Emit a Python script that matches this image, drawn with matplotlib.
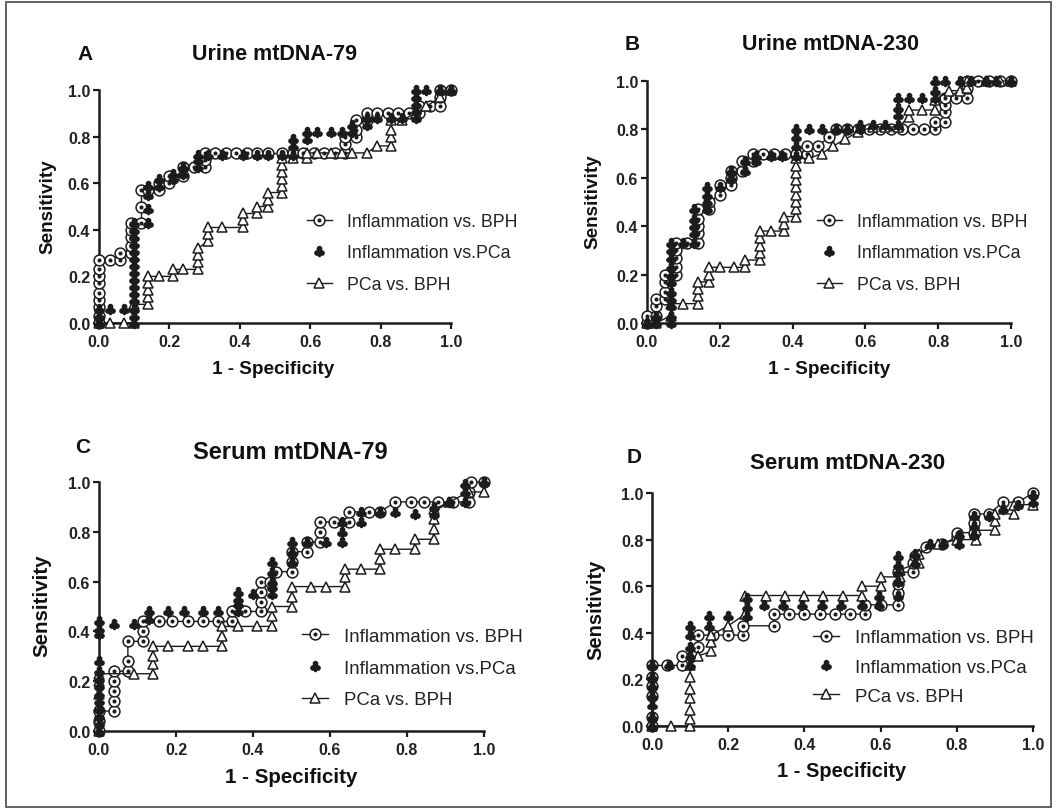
import matplotlib
matplotlib.use("Agg")
import matplotlib.pyplot as plt
from matplotlib.patches import Rectangle

# ---- data: (1 - specificity, sensitivity) points ----
# A  Urine mtDNA-79
a_inf_bph = [(0, 0), (0, 0.03), (0, 0.07), (0, 0.10), (0, 0.13), (0, 0.17), (0, 0.20), (0, 0.23), (0, 0.27),
             (0.03, 0.27), (0.06, 0.27), (0.06, 0.30), (0.09, 0.30), (0.09, 0.33), (0.09, 0.37), (0.09, 0.40),
             (0.09, 0.43), (0.12, 0.43), (0.12, 0.50), (0.12, 0.57), (0.14, 0.57), (0.17, 0.57), (0.17, 0.60),
             (0.20, 0.60), (0.20, 0.63), (0.24, 0.63), (0.24, 0.67), (0.27, 0.67), (0.30, 0.67), (0.30, 0.70),
             (0.30, 0.73), (0.33, 0.73), (0.36, 0.73), (0.39, 0.73), (0.42, 0.73), (0.45, 0.73), (0.48, 0.73),
             (0.52, 0.73), (0.55, 0.73), (0.58, 0.73), (0.61, 0.73), (0.64, 0.73), (0.67, 0.73), (0.70, 0.73),
             (0.70, 0.77), (0.70, 0.80), (0.73, 0.80), (0.73, 0.83), (0.73, 0.87), (0.76, 0.87), (0.76, 0.90),
             (0.79, 0.90), (0.82, 0.90), (0.85, 0.90), (0.88, 0.90), (0.91, 0.90), (0.91, 0.93), (0.94, 0.93),
             (0.97, 0.93), (0.97, 0.97), (0.97, 1.0), (1.0, 1.0)]
a_inf_pca = [(0, 0), (0, 0.03), (0, 0.06), (0.03, 0.06), (0.07, 0.06), (0.10, 0.0), (0.10, 0.03), (0.10, 0.06),
             (0.10, 0.10), (0.10, 0.13), (0.10, 0.16), (0.10, 0.19), (0.10, 0.22), (0.10, 0.25), (0.10, 0.28),
             (0.10, 0.31), (0.10, 0.34), (0.10, 0.37), (0.10, 0.40), (0.10, 0.43), (0.14, 0.43), (0.14, 0.49),
             (0.14, 0.55), (0.14, 0.59), (0.17, 0.59), (0.17, 0.62), (0.21, 0.62), (0.21, 0.64), (0.24, 0.64),
             (0.24, 0.67), (0.28, 0.67), (0.28, 0.70), (0.28, 0.72), (0.31, 0.72), (0.35, 0.72), (0.41, 0.72),
             (0.45, 0.72), (0.48, 0.72), (0.52, 0.72), (0.55, 0.72), (0.55, 0.76), (0.55, 0.79), (0.59, 0.79),
             (0.59, 0.82), (0.62, 0.82), (0.66, 0.82), (0.69, 0.82), (0.72, 0.82), (0.72, 0.85), (0.76, 0.85),
             (0.76, 0.88), (0.79, 0.88), (0.83, 0.88), (0.86, 0.88), (0.90, 0.88), (0.90, 0.91), (0.90, 0.94),
             (0.90, 0.97), (0.90, 1.0), (0.93, 1.0), (0.97, 1.0), (1.0, 1.0)]
a_pca_bph = [(0, 0), (0.03, 0), (0.07, 0), (0.10, 0), (0.10, 0.08), (0.14, 0.08), (0.14, 0.11), (0.14, 0.14),
             (0.14, 0.17), (0.14, 0.20), (0.17, 0.20), (0.21, 0.20), (0.21, 0.23), (0.24, 0.23), (0.28, 0.23),
             (0.28, 0.26), (0.28, 0.29), (0.28, 0.32), (0.31, 0.35), (0.31, 0.38), (0.31, 0.41), (0.35, 0.41),
             (0.41, 0.41), (0.41, 0.44), (0.41, 0.47), (0.45, 0.47), (0.45, 0.50), (0.48, 0.50), (0.48, 0.53),
             (0.48, 0.56), (0.52, 0.56), (0.52, 0.59), (0.52, 0.62), (0.52, 0.65), (0.52, 0.68), (0.52, 0.71),
             (0.55, 0.71), (0.59, 0.71), (0.59, 0.73), (0.62, 0.73), (0.66, 0.73), (0.69, 0.73), (0.72, 0.73),
             (0.76, 0.73), (0.79, 0.76), (0.83, 0.76), (0.83, 0.80), (0.83, 0.83), (0.83, 0.87), (0.86, 0.87),
             (0.90, 0.90), (0.93, 0.93), (0.97, 0.97), (1.0, 1.0)]

# B  Urine mtDNA-230
b_inf_bph = [(0, 0), (0, 0.03), (0.025, 0.03), (0.025, 0.07), (0.025, 0.10), (0.05, 0.10), (0.05, 0.13),
             (0.05, 0.17), (0.05, 0.20), (0.08, 0.20), (0.08, 0.23), (0.08, 0.27), (0.08, 0.30), (0.08, 0.33),
             (0.11, 0.33), (0.14, 0.33), (0.14, 0.37), (0.14, 0.40), (0.14, 0.43), (0.14, 0.47), (0.17, 0.47),
             (0.17, 0.50), (0.20, 0.53), (0.20, 0.57), (0.23, 0.57), (0.23, 0.60), (0.23, 0.63), (0.26, 0.63),
             (0.26, 0.67), (0.29, 0.67), (0.29, 0.70), (0.32, 0.70), (0.35, 0.70), (0.38, 0.70), (0.41, 0.70),
             (0.44, 0.70), (0.44, 0.73), (0.47, 0.73), (0.50, 0.77), (0.52, 0.80), (0.55, 0.80), (0.58, 0.80),
             (0.61, 0.80), (0.64, 0.80), (0.67, 0.80), (0.70, 0.80), (0.73, 0.80), (0.76, 0.80), (0.79, 0.80),
             (0.79, 0.83), (0.82, 0.83), (0.82, 0.87), (0.82, 0.90), (0.82, 0.93), (0.85, 0.93), (0.88, 0.93),
             (0.88, 0.97), (0.88, 1.0), (0.91, 1.0), (0.94, 1.0), (0.97, 1.0), (1.0, 1.0)]
b_inf_pca = [(0, 0), (0.025, 0), (0.025, 0.03), (0.065, 0), (0.065, 0.03), (0.065, 0.07), (0.065, 0.10),
             (0.065, 0.13), (0.065, 0.17), (0.065, 0.20), (0.065, 0.23), (0.065, 0.27), (0.065, 0.30),
             (0.065, 0.33), (0.10, 0.33), (0.13, 0.33), (0.13, 0.37), (0.13, 0.40), (0.13, 0.43), (0.13, 0.47),
             (0.165, 0.47), (0.165, 0.50), (0.165, 0.53), (0.165, 0.56), (0.20, 0.56), (0.23, 0.60),
             (0.23, 0.63), (0.27, 0.63), (0.27, 0.67), (0.30, 0.67), (0.30, 0.69), (0.34, 0.69), (0.37, 0.69),
             (0.41, 0.69), (0.41, 0.73), (0.41, 0.77), (0.41, 0.80), (0.445, 0.80), (0.48, 0.80), (0.52, 0.80),
             (0.55, 0.80), (0.585, 0.80), (0.585, 0.82), (0.62, 0.82), (0.655, 0.82), (0.69, 0.82), (0.69, 0.86),
             (0.69, 0.89), (0.69, 0.93), (0.72, 0.93), (0.755, 0.93), (0.79, 0.93), (0.79, 0.96), (0.79, 1.0),
             (0.82, 1.0), (0.86, 1.0), (0.89, 1.0), (0.93, 1.0), (0.96, 1.0), (1.0, 1.0)]
b_pca_bph = [(0, 0), (0.025, 0), (0.065, 0.03), (0.065, 0.08), (0.10, 0.08), (0.14, 0.08), (0.14, 0.11),
             (0.14, 0.14), (0.14, 0.17), (0.17, 0.17), (0.17, 0.20), (0.17, 0.23), (0.20, 0.23), (0.24, 0.23),
             (0.27, 0.23), (0.27, 0.26), (0.31, 0.26), (0.31, 0.29), (0.31, 0.32), (0.31, 0.35), (0.31, 0.38),
             (0.34, 0.38), (0.375, 0.38), (0.375, 0.41), (0.375, 0.44), (0.41, 0.44), (0.41, 0.47), (0.41, 0.50),
             (0.41, 0.53), (0.41, 0.56), (0.41, 0.59), (0.41, 0.62), (0.41, 0.65), (0.41, 0.68), (0.445, 0.68),
             (0.48, 0.70), (0.51, 0.73), (0.545, 0.76), (0.58, 0.79), (0.62, 0.81), (0.655, 0.81), (0.69, 0.81),
             (0.72, 0.85), (0.72, 0.88), (0.755, 0.88), (0.79, 0.88), (0.79, 0.92), (0.83, 0.96), (0.86, 0.96),
             (0.88, 0.97), (0.88, 1.0), (0.93, 1.0), (0.97, 1.0), (1.0, 1.0)]

# C  Serum mtDNA-79
c_inf_bph = [(0, 0), (0, 0.04), (0, 0.08), (0.04, 0.08), (0.04, 0.12), (0.04, 0.16), (0.04, 0.20), (0.04, 0.24),
             (0.075, 0.24), (0.075, 0.28), (0.075, 0.36), (0.115, 0.36), (0.115, 0.40), (0.115, 0.44),
             (0.155, 0.44), (0.19, 0.44), (0.23, 0.44), (0.27, 0.44), (0.31, 0.44), (0.345, 0.44), (0.345, 0.48),
             (0.38, 0.48), (0.42, 0.48), (0.42, 0.52), (0.42, 0.56), (0.42, 0.60), (0.445, 0.60), (0.46, 0.64),
             (0.50, 0.64), (0.50, 0.68), (0.50, 0.72), (0.54, 0.72), (0.54, 0.76), (0.575, 0.76), (0.575, 0.80),
             (0.575, 0.84), (0.61, 0.84), (0.65, 0.84), (0.65, 0.88), (0.70, 0.88), (0.73, 0.88), (0.77, 0.92),
             (0.81, 0.92), (0.845, 0.92), (0.88, 0.92), (0.92, 0.92), (0.96, 0.92), (0.96, 0.96), (0.965, 1.0),
             (1.0, 1.0)]
c_inf_pca = [(0, 0), (0, 0.03), (0, 0.06), (0, 0.09), (0, 0.12), (0, 0.15), (0, 0.18), (0, 0.21), (0, 0.24),
             (0, 0.28), (0, 0.39), (0, 0.41), (0, 0.44), (0.04, 0.43), (0.09, 0.43), (0.13, 0.45), (0.13, 0.48),
             (0.18, 0.48), (0.22, 0.48), (0.27, 0.48), (0.31, 0.48), (0.36, 0.48), (0.36, 0.51), (0.36, 0.53),
             (0.36, 0.56), (0.40, 0.55), (0.45, 0.55), (0.45, 0.58), (0.45, 0.60), (0.45, 0.64), (0.45, 0.68),
             (0.50, 0.68), (0.50, 0.72), (0.50, 0.76), (0.54, 0.76), (0.59, 0.76), (0.63, 0.76), (0.63, 0.80),
             (0.63, 0.84), (0.68, 0.84), (0.68, 0.88), (0.73, 0.88), (0.77, 0.88), (0.82, 0.87), (0.87, 0.87),
             (0.87, 0.90), (0.91, 0.92), (0.95, 0.92), (0.95, 0.96), (0.95, 0.99), (1.0, 1.0)]
c_pca_bph = [(0, 0), (0, 0.05), (0, 0.10), (0, 0.15), (0, 0.20), (0, 0.23), (0.09, 0.23), (0.14, 0.23),
             (0.14, 0.27), (0.14, 0.30), (0.14, 0.34), (0.18, 0.34), (0.23, 0.34), (0.27, 0.34), (0.32, 0.34),
             (0.32, 0.38), (0.32, 0.42), (0.36, 0.42), (0.41, 0.42), (0.45, 0.42), (0.45, 0.46), (0.45, 0.50),
             (0.50, 0.50), (0.50, 0.54), (0.50, 0.58), (0.55, 0.58), (0.59, 0.58), (0.64, 0.58), (0.64, 0.62),
             (0.64, 0.65), (0.68, 0.65), (0.73, 0.65), (0.73, 0.69), (0.73, 0.73), (0.77, 0.73), (0.82, 0.73),
             (0.82, 0.77), (0.87, 0.77), (0.87, 0.81), (0.87, 0.85), (0.87, 0.89), (0.91, 0.92), (0.96, 0.96),
             (1.0, 0.96)]

# D  Serum mtDNA-230
d_inf_bph = [(0, 0), (0, 0.04), (0, 0.13), (0, 0.17), (0, 0.21), (0, 0.26), (0.04, 0.26), (0.08, 0.26),
             (0.08, 0.30), (0.105, 0.30), (0.12, 0.34), (0.12, 0.39), (0.16, 0.39), (0.20, 0.39), (0.24, 0.39),
             (0.24, 0.43), (0.32, 0.43), (0.32, 0.48), (0.36, 0.48), (0.40, 0.48), (0.44, 0.48), (0.48, 0.48),
             (0.52, 0.48), (0.56, 0.48), (0.56, 0.52), (0.60, 0.52), (0.645, 0.52), (0.645, 0.57), (0.645, 0.61),
             (0.645, 0.66), (0.685, 0.66), (0.685, 0.70), (0.69, 0.73), (0.72, 0.77), (0.76, 0.78), (0.80, 0.81),
             (0.80, 0.83), (0.845, 0.83), (0.845, 0.87), (0.845, 0.91), (0.885, 0.91), (0.92, 0.96), (0.96, 0.96),
             (1.0, 1.0)]
d_inf_pca = [(0, 0), (0, 0.04), (0, 0.09), (0, 0.13), (0, 0.17), (0, 0.21), (0, 0.26), (0.045, 0.26),
             (0.10, 0.26), (0.10, 0.30), (0.10, 0.34), (0.10, 0.39), (0.10, 0.43), (0.15, 0.43), (0.15, 0.47),
             (0.20, 0.47), (0.25, 0.47), (0.25, 0.51), (0.25, 0.55), (0.295, 0.52), (0.345, 0.52), (0.395, 0.52),
             (0.445, 0.52), (0.495, 0.52), (0.55, 0.52), (0.595, 0.52), (0.595, 0.56), (0.645, 0.56),
             (0.645, 0.62), (0.645, 0.66), (0.645, 0.69), (0.645, 0.73), (0.69, 0.70), (0.69, 0.74), (0.73, 0.78),
             (0.765, 0.78), (0.805, 0.78), (0.805, 0.82), (0.845, 0.82), (0.845, 0.86), (0.845, 0.90),
             (0.885, 0.90), (0.92, 0.93), (0.96, 0.95), (1.0, 0.96), (1.0, 0.99)]
d_pca_bph = [(0, 0), (0.05, 0), (0.10, 0), (0.10, 0.03), (0.10, 0.07), (0.10, 0.12), (0.10, 0.16), (0.10, 0.21),
             (0.10, 0.26), (0.12, 0.30), (0.155, 0.32), (0.155, 0.36), (0.155, 0.39), (0.20, 0.43), (0.245, 0.48),
             (0.245, 0.56), (0.30, 0.56), (0.35, 0.56), (0.40, 0.56), (0.45, 0.56), (0.50, 0.56), (0.55, 0.56),
             (0.55, 0.60), (0.60, 0.60), (0.60, 0.64), (0.65, 0.64), (0.65, 0.67), (0.70, 0.70), (0.70, 0.74),
             (0.75, 0.78), (0.80, 0.80), (0.85, 0.80), (0.85, 0.84), (0.90, 0.84), (0.90, 0.88), (0.90, 0.91),
             (0.95, 0.91), (0.95, 0.95), (1.0, 0.95)]

series_names = ["Inflammation vs. BPH", "Inflammation vs.PCa", "PCa vs. BPH"]
ticks = [0.0, 0.2, 0.4, 0.6, 0.8, 1.0]
tick_labels = ["0.0", "0.2", "0.4", "0.6", "0.8", "1.0"]

W, H = 1056, 812
INK = "#1c1c1c"

plt.rcParams["font.family"] = ["Liberation Sans", "DejaVu Sans"]


def fx(px):
    return px / W


def fy(py):
    return 1 - py / H


fig = plt.figure(figsize=(W / 100, H / 100), dpi=100)
fig.patches.append(Rectangle((fx(6), fy(808)), fx(1051) - fx(6), fy(3) - fy(808),
                             transform=fig.transFigure, fill=False,
                             edgecolor="#555555", linewidth=1.3))


def draw_panel(box, curves, letter, letter_xy, title, title_xy, title_fs,
               xlab_xy, ylab_xy, lab_fs, leg_xy, leg_fs, leg_space):
    l, t, r, b = box
    ax = fig.add_axes([fx(l), fy(b), fx(r) - fx(l), fy(t) - fy(b)])
    inf_bph, inf_pca, pca_bph = curves

    x, y = zip(*inf_bph)
    h1, = ax.plot(x, y, color=INK, lw=1.0, marker="o", ms=7.8, mfc="white",
                  mec=INK, mew=1.1, clip_on=False, zorder=3)
    h1d, = ax.plot(x, y, ls="none", marker="o", ms=1.9, color=INK,
                   clip_on=False, zorder=3.1)
    x, y = zip(*pca_bph)
    h3, = ax.plot(x, y, color=INK, lw=1.0, marker="^", ms=7.8, mfc="white",
                  mec=INK, mew=1.1, clip_on=False, zorder=4)
    x, y = zip(*inf_pca)
    h2, = ax.plot(x, y, ls="none", marker=r"$\clubsuit$", ms=7.2, color=INK,
                  clip_on=False, zorder=5)

    ax.set_xlim(0, 1)
    ax.set_ylim(0, 1)
    ax.set_xticks(ticks)
    ax.set_yticks(ticks)
    ax.set_xticklabels(tick_labels, fontweight="bold")
    ax.set_yticklabels(tick_labels, fontweight="bold")
    ax.tick_params(axis="both", direction="out", length=4.3, width=1.6,
                   color=INK, labelsize=11.5, labelcolor="#222222")
    ax.tick_params(axis="x", pad=3.5)
    ax.tick_params(axis="y", pad=2)
    for side in ["top", "right"]:
        ax.spines[side].set_visible(False)
    for side in ["left", "bottom"]:
        ax.spines[side].set_linewidth(1.8)
        ax.spines[side].set_color(INK)

    ax.legend([(h1, h1d), h2, h3], series_names, loc="center left",
              bbox_to_anchor=(fx(leg_xy[0]), fy(leg_xy[1])),
              bbox_transform=fig.transFigure, frameon=False, fontsize=leg_fs,
              handlelength=1.4, handletextpad=0.85, labelspacing=leg_space,
              borderpad=0, borderaxespad=0, labelcolor="#222222")

    fig.text(fx(letter_xy[0]), fy(letter_xy[1]), letter, ha="center",
             va="center", fontsize=15, fontweight="bold", color="#111111")
    fig.text(fx(title_xy[0]), fy(title_xy[1]), title, ha="center",
             va="center", fontsize=title_fs, fontweight="bold", color="#111111")
    fig.text(fx(xlab_xy[0]), fy(xlab_xy[1]), "1 - Specificity", ha="center",
             va="center", fontsize=lab_fs, fontweight="bold", color="#111111")
    fig.text(fx(ylab_xy[0]), fy(ylab_xy[1]), "Sensitivity", ha="center",
             va="center", rotation=90, fontsize=lab_fs, fontweight="bold",
             color="#111111")


draw_panel((99, 91, 451, 324), (a_inf_bph, a_inf_pca, a_pca_bph),
           "A", (85, 54), "Urine mtDNA-79", (274, 55), 15.5,
           (273, 370), (48, 207), 13.6, (307, 254), 12.8, 0.82)
draw_panel((647, 82, 1011, 324), (b_inf_bph, b_inf_pca, b_pca_bph),
           "B", (632, 45), "Urine mtDNA-230", (830, 45), 15.5,
           (829, 370), (593, 202), 13.6, (817, 254), 12.8, 0.8)
draw_panel((99, 483, 484, 732), (c_inf_bph, c_inf_pca, c_pca_bph),
           "C", (83, 448), "Serum mtDNA-79", (290, 453), 17,
           (291, 778), (42, 606), 14.8, (302, 669), 13.4, 0.8)
draw_panel((652, 494, 1033, 727), (d_inf_bph, d_inf_pca, d_pca_bph),
           "D", (634, 458), "Serum mtDNA-230", (848, 464), 16,
           (842, 772), (596, 610), 14.5, (813, 668), 13.4, 0.66)

fig.savefig("out.png", dpi=100)
